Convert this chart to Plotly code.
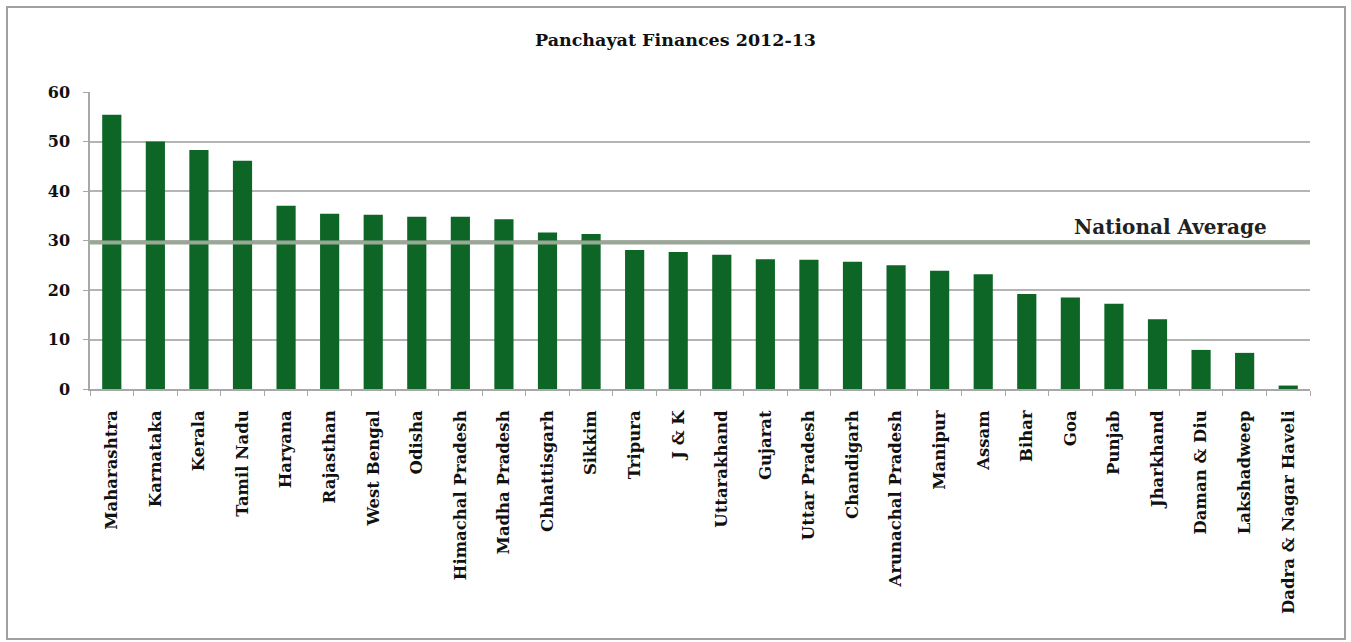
import plotly.graph_objects as go

states = ["Maharashtra", "Karnataka", "Kerala", "Tamil Nadu", "Haryana", "Rajasthan",
          "West Bengal", "Odisha", "Himachal Pradesh", "Madha Pradesh", "Chhattisgarh",
          "Sikkim", "Tripura", "J & K", "Uttarakhand", "Gujarat", "Uttar Pradesh",
          "Chandigarh", "Arunachal Pradesh", "Manipur", "Assam", "Bihar", "Goa", "Punjab",
          "Jharkhand", "Daman & Diu", "Lakshadweep", "Dadra & Nagar Haveli"]
values = [55.4, 50.0, 48.3, 46.1, 37.0, 35.4, 35.2, 34.8, 34.8, 34.3, 31.6, 31.3, 28.1,
          27.7, 27.1, 26.2, 26.1, 25.7, 25.0, 23.9, 23.2, 19.2, 18.5, 17.2, 14.1, 7.9, 7.3, 0.7]
national_average = 29.6
y_ticks = [0, 10, 20, 30, 40, 50, 60]

W, H = 1351, 642
L, R, T, B = 90, 41, 92, 253
pw, ph = W - L - R, H - T - B

def px_x(p):
    return (p - L) / pw

def px_y(p):
    return (H - B - p) / ph

FONT = "DejaVu Serif"

fig = go.Figure()
fig.add_trace(go.Bar(x=states, y=values, marker_color="#0d6626",
                     marker_line_width=0, showlegend=False))

fig.update_layout(
    width=W, height=H,
    margin=dict(l=L, r=R, t=T, b=B),
    paper_bgcolor="white", plot_bgcolor="white",
    bargap=0.56,
    font=dict(family=FONT, color="#111111"),
    title=dict(text="<b>Panchayat Finances 2012-13</b>", x=0.5, xanchor="center",
               y=1 - 40 / H, yanchor="middle",
               font=dict(family=FONT, size=17.5, color="#111111")),
    xaxis=dict(type="category", tickangle=-90, showline=True, linecolor="#a8a8a8",
               linewidth=1.5, ticks="outside", tickson="boundaries", ticklen=5,
               tickcolor="#a8a8a8", tickfont=dict(family=FONT, size=16.5, color="#111111"),
               showgrid=False, fixedrange=True, ticklabelstandoff=13),
    yaxis=dict(range=[0, 60], tickvals=y_ticks, showline=True, linecolor="#a8a8a8",
               linewidth=1.5, ticks="outside", ticklen=5, tickcolor="#a8a8a8",
               showgrid=True, gridcolor="#b4b4b4", gridwidth=1.5, zeroline=False,
               tickfont=dict(family=FONT, size=16, color="#111111"),
               ticklabelstandoff=10),
)

# tick labels bold
fig.update_xaxes(ticktext=[f"<b>{s}</b>" for s in states], tickvals=states)
fig.update_yaxes(ticktext=[f"<b>{v}</b>" for v in y_ticks])

# national average line
fig.add_shape(type="line", xref="paper", yref="y", x0=0, x1=1,
              y0=national_average, y1=national_average,
              line=dict(color="#9aa796", width=4), layer="above")
fig.add_annotation(text="<b>National Average</b>", xref="paper", yref="paper",
                   x=px_x(1269), y=px_y(227), xanchor="right", yanchor="middle",
                   showarrow=False, font=dict(family=FONT, size=20, color="#222222"))

# outer frame
fig.add_shape(type="rect", xref="paper", yref="paper",
              x0=px_x(7), x1=px_x(1345), y0=px_y(639), y1=px_y(7),
              line=dict(color="#a0a0a0", width=2), layer="below")

fig.write_html("out.html", config={"displayModeBar": False},
               post_script="document.body.style.margin='0';")
